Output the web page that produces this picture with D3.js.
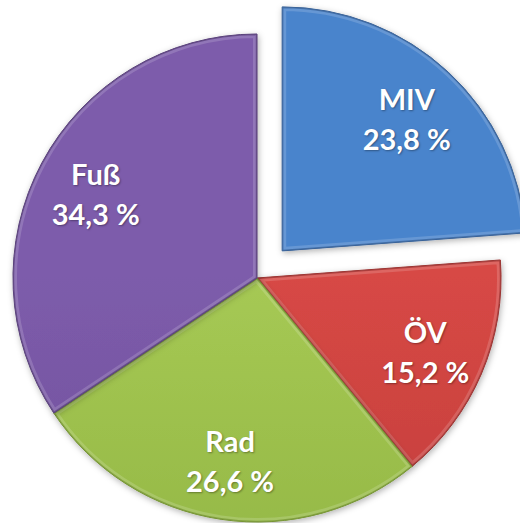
<!DOCTYPE html>
<html>
<head>
<meta charset="utf-8">
<script src="https://cdn.jsdelivr.net/npm/d3@7"></script>
<style>
  html, body { margin: 0; padding: 0; background: #fff; }
  svg text { font-family: Lato, "Open Sans", sans-serif; font-weight: bold; }
</style>
</head>
<body>
<div class="chartsWrapper"></div>
<script>
// data
var categories = ["MIV", "ÖV", "Rad", "Fuß"];
var shares = [23.8, 15.2, 26.6, 34.3];
var shareLabels = ["23,8 %", "15,2 %", "26,6 %", "34,3 %"];
var exploded = [true, false, false, false];

// colours (top of gradient, bottom of gradient, edge)
var topColors = ["#4a84cc", "#d74845", "#a6c954", "#7d5cab"];
var bottomColors = ["#386aa8", "#b33734", "#86aa3b", "#67488f"];
var edgeColors = ["#2f5a92", "#962b29", "#6f8f2c", "#523874"];

var width = 520, height = 523;
var cx = 257, cy = 278, radius = 244, explode = 37;

var svg = d3.select('.chartsWrapper')
            .append('svg')
            .attr('width', width)
            .attr('height', height);

var defs = svg.append('defs');

var shadow = defs.append('filter')
    .attr('id', 'shadow')
    .attr('x', '-20%').attr('y', '-20%')
    .attr('width', '140%').attr('height', '140%');
shadow.append('feDropShadow')
    .attr('dx', 1).attr('dy', 2)
    .attr('stdDeviation', 3)
    .attr('flood-color', '#000')
    .attr('flood-opacity', 0.3);

categories.forEach(function(c, i) {
  var g = defs.append('linearGradient')
      .attr('id', 'grad' + i)
      .attr('gradientUnits', 'userSpaceOnUse')
      .attr('x1', 0).attr('y1', cy - radius - explode)
      .attr('x2', 0).attr('y2', cy + radius);
  g.append('stop').attr('offset', '0%').attr('stop-color', topColors[i]);
  g.append('stop').attr('offset', '100%').attr('stop-color', bottomColors[i]);
});

var pie = d3.pie()
    .value(function(d) { return d; })
    .sort(null);

var arcs = pie(shares);

var arc = d3.arc()
    .innerRadius(0)
    .outerRadius(radius);

var labelArc = d3.arc()
    .innerRadius(radius * 0.75)
    .outerRadius(radius * 0.75);

function offset(d, i) {
  if (!exploded[i]) return [0, 0];
  var a = (d.startAngle + d.endAngle) / 2;
  return [Math.sin(a) * explode, -Math.cos(a) * explode];
}

var slices = svg.selectAll('.slice')
    .data(arcs)
    .enter()
    .append('g')
    .attr('class', 'slice')
    .attr('transform', function(d, i) {
      var o = offset(d, i);
      return 'translate(' + (cx + o[0]) + ',' + (cy + o[1]) + ')';
    });

slices.append('path')
    .attr('d', arc)
    .attr('fill', function(d, i) { return 'url(#grad' + i + ')'; })
    .attr('stroke', function(d, i) { return edgeColors[i]; })
    .attr('stroke-width', 1)
    .attr('filter', 'url(#shadow)');

// bevel: a soft light rim just inside each slice
slices.append('clipPath')
    .attr('id', function(d, i) { return 'clip' + i; })
    .append('path')
    .attr('d', arc);

slices.append('path')
    .attr('d', arc)
    .attr('fill', 'none')
    .attr('stroke', '#fff')
    .attr('stroke-opacity', 0.16)
    .attr('stroke-width', 8)
    .attr('clip-path', function(d, i) { return 'url(#clip' + i + ')'; });

slices.append('path')
    .attr('d', arc)
    .attr('fill', 'none')
    .attr('stroke', function(d, i) { return edgeColors[i]; })
    .attr('stroke-opacity', 0.6)
    .attr('stroke-width', 2.5)
    .attr('clip-path', function(d, i) { return 'url(#clip' + i + ')'; });

var labels = slices.append('text')
    .attr('transform', function(d) {
      var p = labelArc.centroid(d);
      return 'translate(' + p[0] + ',' + p[1] + ')';
    })
    .attr('text-anchor', 'middle')
    .attr('fill', '#fff')
    .style('font-size', '29px')
    .style('text-shadow', '1px 1px 2px rgba(0,0,0,0.35)');

labels.append('tspan')
    .attr('x', 0)
    .attr('y', -7)
    .text(function(d, i) { return categories[i]; });

labels.append('tspan')
    .attr('x', 0)
    .attr('y', 33)
    .text(function(d, i) { return shareLabels[i]; });
</script>
</body>
</html>
